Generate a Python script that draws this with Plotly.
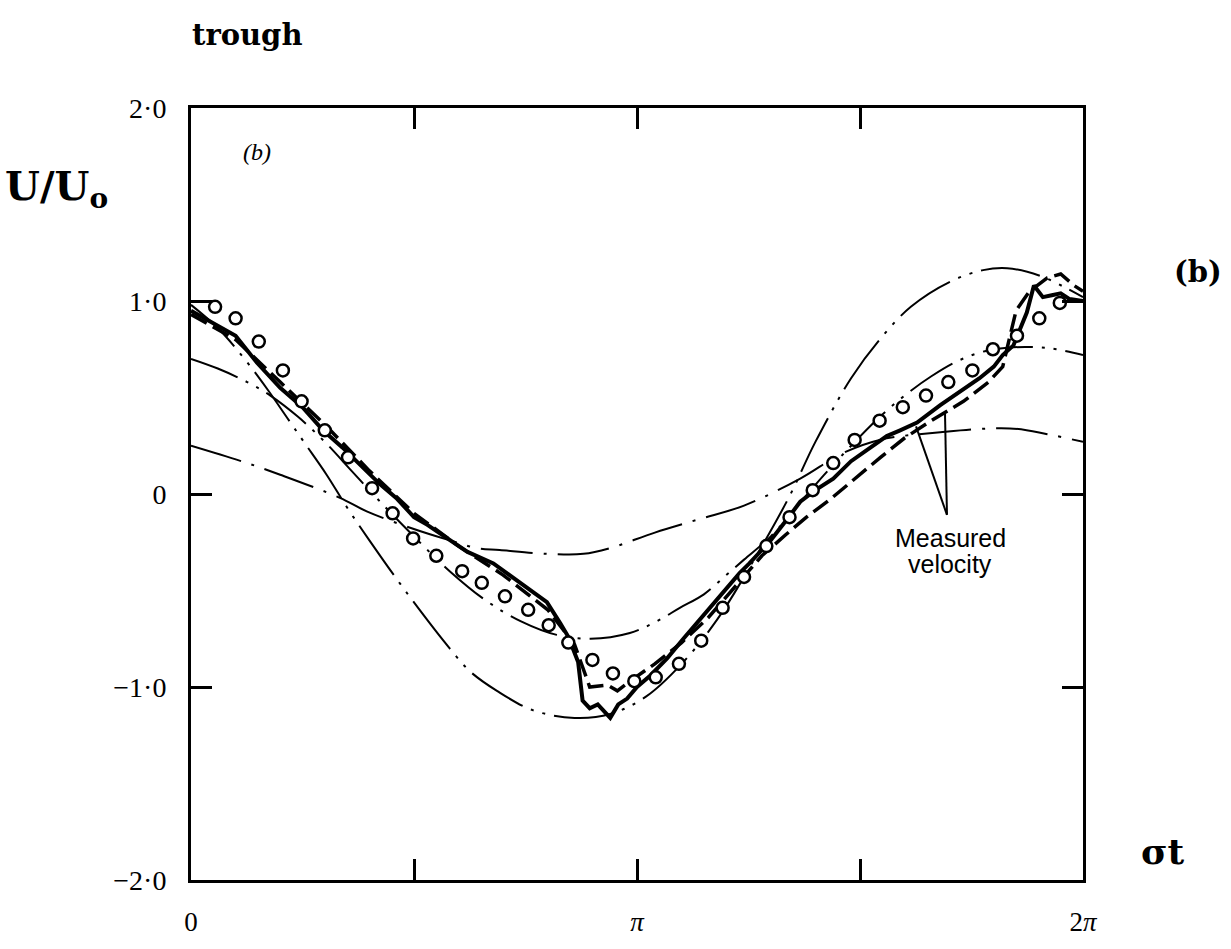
import numpy as np
import plotly.graph_objects as go

TWO_PI = 2 * np.pi

# ---- data: phase as fraction of a period (sigma t / 2pi), U/U0 ----
circle_t = [0.027, 0.050, 0.076, 0.103, 0.124, 0.150, 0.176, 0.203, 0.226, 0.249, 0.275,
            0.304, 0.326, 0.352, 0.378, 0.401, 0.423, 0.450, 0.473, 0.497, 0.521, 0.547,
            0.572, 0.596, 0.620, 0.645, 0.671, 0.697, 0.720, 0.744, 0.772, 0.798, 0.824,
            0.849, 0.876, 0.899, 0.926, 0.951, 0.974]
circle_u = [0.97, 0.91, 0.79, 0.64, 0.48, 0.33, 0.19, 0.03, -0.10, -0.23, -0.32,
            -0.40, -0.46, -0.53, -0.60, -0.68, -0.77, -0.86, -0.93, -0.97, -0.95, -0.88,
            -0.76, -0.59, -0.43, -0.27, -0.12, 0.02, 0.16, 0.28, 0.38, 0.45, 0.51,
            0.58, 0.64, 0.75, 0.82, 0.91, 0.99]

solid_t = [0.0, 0.02, 0.05, 0.074, 0.10, 0.125, 0.148, 0.17, 0.19, 0.212, 0.23, 0.25, 0.265,
           0.287, 0.31, 0.339, 0.369, 0.399, 0.414, 0.423, 0.434, 0.439, 0.447, 0.456, 0.470,
           0.479, 0.489, 0.500, 0.515, 0.534, 0.552, 0.574, 0.596, 0.615, 0.626, 0.65, 0.67,
           0.683, 0.70, 0.72, 0.74, 0.758, 0.78, 0.795, 0.814, 0.84, 0.862, 0.884, 0.90, 0.91,
           0.922, 0.937, 0.945, 0.955, 0.965, 0.975, 0.985, 1.0]
solid_u = [0.95, 0.90, 0.82, 0.68, 0.55, 0.45, 0.33, 0.24, 0.15, 0.05, -0.02, -0.12, -0.16,
           -0.23, -0.30, -0.36, -0.46, -0.56, -0.67, -0.74, -0.87, -1.07, -1.11, -1.09, -1.16,
           -1.09, -1.06, -1.00, -0.94, -0.85, -0.75, -0.63, -0.51, -0.41, -0.36, -0.24, -0.12,
           -0.04, 0.02, 0.08, 0.17, 0.23, 0.30, 0.33, 0.37, 0.46, 0.53, 0.60, 0.66, 0.72,
           0.77, 0.94, 1.08, 1.02, 1.03, 1.04, 1.01, 1.00]

dashed_t = [0.0, 0.05, 0.10, 0.15, 0.20, 0.25, 0.30, 0.35, 0.40, 0.43, 0.447, 0.467, 0.478,
            0.492, 0.52, 0.55, 0.58, 0.61, 0.64, 0.667, 0.69, 0.716, 0.744, 0.773, 0.80, 0.83,
            0.866, 0.894, 0.91, 0.925, 0.94, 0.96, 0.975, 0.99, 1.0]
dashed_u = [0.93, 0.80, 0.58, 0.36, 0.12, -0.10, -0.27, -0.42, -0.60, -0.78, -1.00, -0.99,
            -1.02, -0.97, -0.88, -0.77, -0.64, -0.48, -0.32, -0.21, -0.12, -0.03, 0.08, 0.19,
            0.29, 0.38, 0.48, 0.58, 0.66, 0.95, 1.05, 1.12, 1.14, 1.08, 1.05]

large_t = [0.0, 0.03, 0.06, 0.086, 0.11, 0.128, 0.152, 0.175, 0.20, 0.24, 0.29, 0.313, 0.343,
           0.383, 0.43, 0.47, 0.51, 0.55, 0.59, 0.63, 0.67, 0.70, 0.74, 0.772, 0.807, 0.851,
           0.888, 0.915, 0.952, 0.98, 1.0]
large_u = [0.98, 0.86, 0.70, 0.54, 0.38, 0.26, 0.10, -0.07, -0.24, -0.50, -0.80, -0.92, -1.02,
           -1.12, -1.16, -1.14, -1.05, -0.88, -0.65, -0.35, -0.02, 0.27, 0.60, 0.80, 0.97, 1.10,
           1.16, 1.17, 1.13, 1.07, 1.02]

medium_t = [0.0, 0.03, 0.063, 0.089, 0.12, 0.15, 0.18, 0.21, 0.25, 0.29, 0.33, 0.37, 0.41,
            0.448, 0.492, 0.522, 0.548, 0.575, 0.60, 0.62, 0.65, 0.68, 0.71, 0.74, 0.77, 0.80,
            0.83, 0.86, 0.89, 0.922, 0.95, 0.97, 1.0]
medium_u = [0.70, 0.65, 0.58, 0.51, 0.40, 0.27, 0.12, -0.03, -0.22, -0.40, -0.55, -0.66, -0.73,
            -0.75, -0.72, -0.66, -0.59, -0.52, -0.42, -0.34, -0.22, -0.06, 0.10, 0.25, 0.39, 0.51,
            0.61, 0.69, 0.74, 0.76, 0.76, 0.75, 0.72]

small_t = [0.0, 0.063, 0.10, 0.167, 0.197, 0.249, 0.29, 0.32, 0.346, 0.40, 0.44, 0.47, 0.52,
           0.57, 0.62, 0.683, 0.73, 0.772, 0.84, 0.918, 0.96, 1.0]
small_u = [0.25, 0.16, 0.10, -0.02, -0.09, -0.18, -0.24, -0.28, -0.29, -0.31, -0.31, -0.28,
           -0.20, -0.13, -0.06, 0.08, 0.21, 0.28, 0.32, 0.34, 0.31, 0.27]

y_tickvals = [-2, -1, 0, 1, 2]
y_ticktext = ["\u22122\u00b70", "\u22121\u00b70", "0", "1\u00b70", "2\u00b70"]
x_labelfrac = [0, 0.5, 1.0]
x_ticktext = ["0", "<i>\u03c0</i>", "2<i>\u03c0</i>"]
x_minorfrac = [0.25, 0.75]


def phase(frac):
    return [f * TWO_PI for f in frac]


fig = go.Figure()

fig.add_trace(go.Scatter(x=phase(large_t), y=large_u, mode="lines",
                         line=dict(color="black", width=2, shape="spline",
                                   dash="60px,9px,3px,9px,3px,9px")))
fig.add_trace(go.Scatter(x=phase(medium_t), y=medium_u, mode="lines",
                         line=dict(color="black", width=2, shape="spline",
                                   dash="50px,9px,3px,9px,3px,9px")))
fig.add_trace(go.Scatter(x=phase(small_t), y=small_u, mode="lines",
                         line=dict(color="black", width=2, shape="spline",
                                   dash="52px,11px,3px,11px")))
fig.add_trace(go.Scatter(x=phase(dashed_t), y=dashed_u, mode="lines",
                         line=dict(color="black", width=3.5, dash="18px,7px")))
fig.add_trace(go.Scatter(x=phase(solid_t), y=solid_u, mode="lines",
                         line=dict(color="black", width=4)))
fig.add_trace(go.Scatter(x=phase(circle_t), y=circle_u, mode="markers",
                         marker=dict(symbol="circle", size=12, color="white",
                                     line=dict(color="black", width=2.5))))

# pointer lines from the label to the measured curves
apex = (0.8475, -0.108)
for end in [(0.8128, 0.35), (0.8453, 0.416)]:
    fig.add_shape(type="line", xref="x", yref="y",
                  x0=apex[0] * TWO_PI, y0=apex[1], x1=end[0] * TWO_PI, y1=end[1],
                  line=dict(color="black", width=2))

fig.add_annotation(x=0.851 * TWO_PI, y=-0.23, xref="x", yref="y", text="Measured",
                   showarrow=False, font=dict(family="Liberation Sans", size=25, color="black"))
fig.add_annotation(x=0.851 * TWO_PI, y=-0.365, xref="x", yref="y", text="velocity",
                   showarrow=False, font=dict(family="Liberation Sans", size=25, color="black"))
fig.add_annotation(x=0.074 * TWO_PI, y=1.77, xref="x", yref="y", text="<i>(b)</i>",
                   showarrow=False, font=dict(family="Liberation Serif", size=24, color="black"))

bold = dict(family="DejaVu Serif", color="black")
for txt, px, py, size in [("<b>trough</b>", 247, 33, 29),
                          ("<b>U/U<sub>o</sub></b>", 56, 190, 40),
                          ("<b>(b)</b>", 1198, 275, 29),
                          ("<b>\u03c3t</b>", 1163, 866, 36)]:
    fig.add_annotation(x=(px - 191) / 892, y=(896 - py) / 788, xref="paper", yref="paper",
                       xanchor="center", yanchor="middle", text=txt,
                       showarrow=False, font=dict(size=size, **bold))

fig.update_layout(
    width=1231, height=949,
    margin=dict(l=191, r=148, t=108, b=53),
    paper_bgcolor="white", plot_bgcolor="white",
    showlegend=False,
    xaxis=dict(range=[0, TWO_PI], tickvals=phase(x_labelfrac), ticktext=x_ticktext,
               ticks="inside", ticklen=21, tickwidth=2.5, tickcolor="black",
               minor=dict(tickvals=phase(x_minorfrac), ticks="inside", ticklen=21,
                          tickwidth=2.5, tickcolor="black", showgrid=False),
               showline=True, linewidth=3, linecolor="black", mirror="allticks",
               showgrid=False, zeroline=False, ticklabelstandoff=16,
               tickfont=dict(family="Liberation Serif", size=27, color="black")),
    yaxis=dict(range=[-2, 2], tickvals=y_tickvals, ticktext=y_ticktext,
               ticks="inside", ticklen=21, tickwidth=2.5, tickcolor="black",
               showline=True, linewidth=3, linecolor="black", mirror="allticks",
               showgrid=False, zeroline=False, ticklabelstandoff=16,
               tickfont=dict(family="Liberation Serif", size=28, color="black")),
)

fig.write_html("out.html")
